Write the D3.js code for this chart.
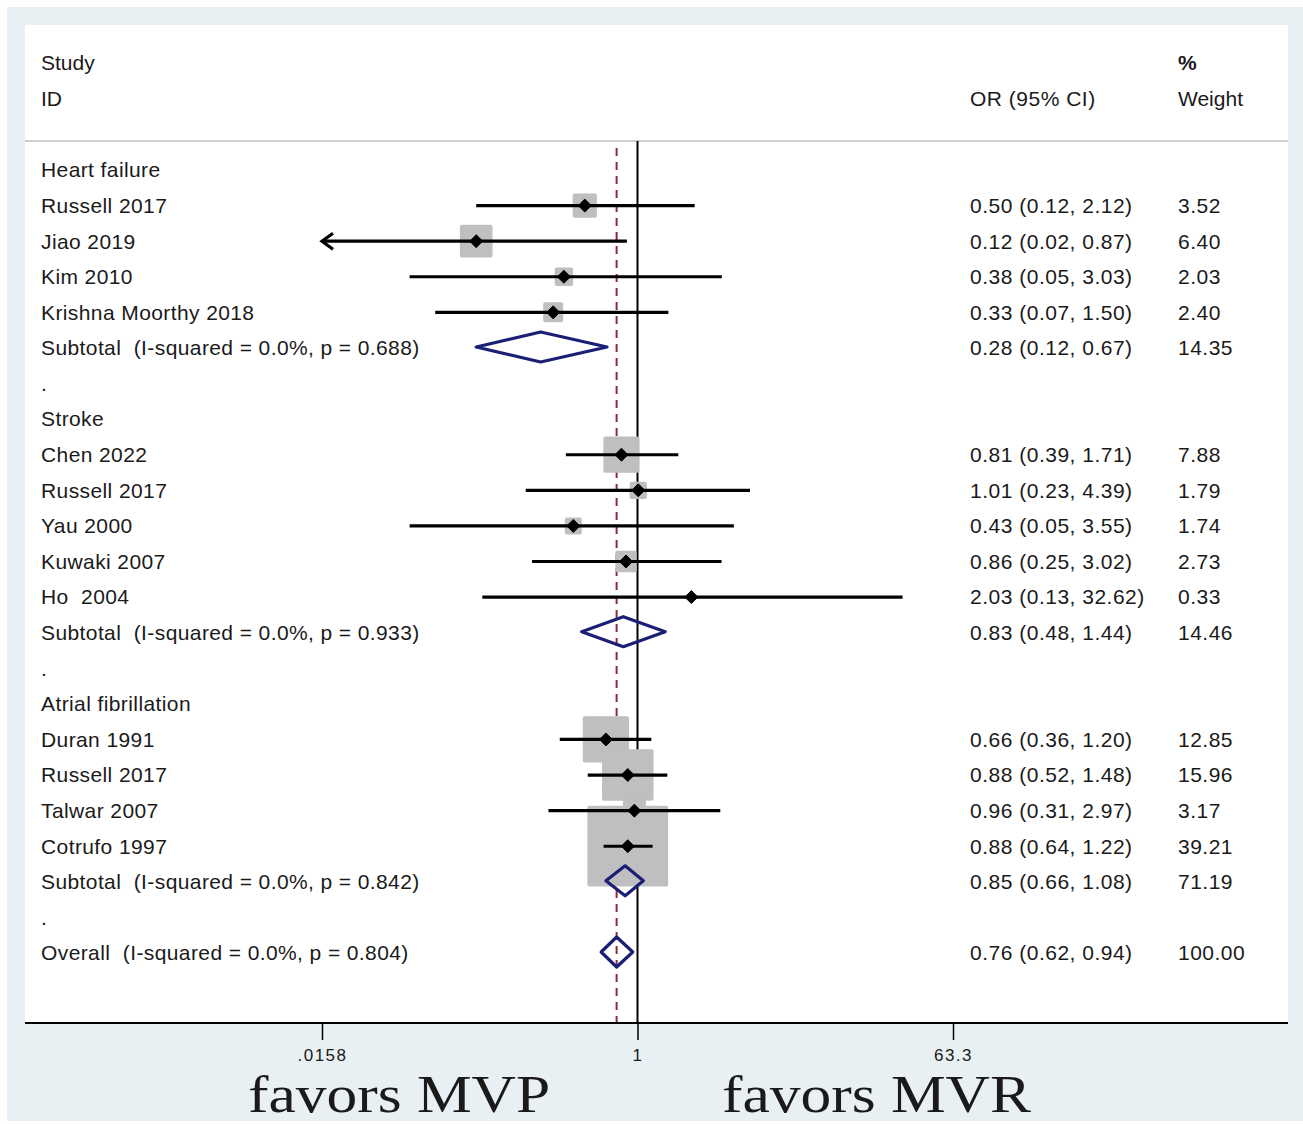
<!DOCTYPE html>
<html>
<head>
<meta charset="utf-8">
<script src="https://cdn.jsdelivr.net/npm/d3@7"></script>
<style>
  html, body { margin: 0; padding: 0; background: #ffffff; }
  svg { display: block; }
  text { font-family: "Liberation Sans", Arial, sans-serif; fill: #1a1a1a; white-space: pre; }
</style>
</head>
<body>
<svg id="chart" width="1303" height="1124"></svg>
<script>
const rowLabels = ["Heart failure","Russell 2017","Jiao 2019","Kim 2010","Krishna Moorthy 2018",
  "Subtotal  (I-squared = 0.0%, p = 0.688)",".","Stroke","Chen 2022","Russell 2017","Yau 2000",
  "Kuwaki 2007","Ho  2004","Subtotal  (I-squared = 0.0%, p = 0.933)",".","Atrial fibrillation",
  "Duran 1991","Russell 2017","Talwar 2007","Cotrufo 1997","Subtotal  (I-squared = 0.0%, p = 0.842)",".",
  "Overall  (I-squared = 0.0%, p = 0.804)"];
const rowTypes = ["group","study","study","study","study","subtotal","blank","group","study","study","study",
  "study","study","subtotal","blank","group","study","study","study","study","subtotal","blank","overall"];
const orValues = [null,0.50,0.12,0.38,0.33,0.28,null,null,0.81,1.01,0.43,0.86,2.03,0.83,null,null,0.66,0.88,0.96,0.88,0.85,null,0.76];
const ciLower  = [null,0.12,0.0156,0.05,0.07,0.12,null,null,0.39,0.23,0.05,0.25,0.13,0.48,null,null,0.36,0.52,0.31,0.64,0.66,null,0.62];
const ciUpper  = [null,2.12,0.87,3.03,1.50,0.67,null,null,1.71,4.39,3.55,3.02,32.62,1.44,null,null,1.20,1.48,2.97,1.22,1.08,null,0.94];
const weights  = [null,3.52,6.40,2.03,2.40,14.35,null,null,7.88,1.79,1.74,2.73,0.33,14.46,null,null,12.85,15.96,3.17,39.21,71.19,null,100.00];
const tickValues = [0.0158, 1, 63.3];
const tickLabels = [".0158", "1", "63.3"];
const favorLabels = ["favors MVP", "favors MVR"];

const svg = d3.select("#chart");
const x = d3.scaleLog().domain([0.0158, 63.3]).range([322, 953]);
const y = d3.scaleLinear().domain([0, rowLabels.length - 1]).range([170, 953]);
const boxScale = d3.scaleSqrt().domain([0, 100]).range([0, 129]);
const f2 = d3.format(".2f");
const overallOR = orValues[rowTypes.indexOf("overall")];
const axisY = 1023;

// backgrounds
svg.append("rect").attr("x", 7).attr("y", 7).attr("width", 1296).attr("height", 1114).attr("fill", "#e9f0f3");
svg.append("rect").attr("x", 25).attr("y", 25).attr("width", 1263).attr("height", axisY - 25).attr("fill", "#ffffff");

// header
const hdr = svg.append("g").style("font-size", "21px");
hdr.append("text").attr("x", 41).attr("y", 63).attr("dy", "0.35em").text("Study");
hdr.append("text").attr("x", 41).attr("y", 99).attr("dy", "0.35em").text("ID");
hdr.append("text").attr("x", 970).attr("y", 99).attr("dy", "0.35em").style("letter-spacing", "0.5px").text("OR (95% CI)");
hdr.append("text").attr("x", 1178).attr("y", 63).attr("dy", "0.35em").style("font-weight", "bold").text("%");
hdr.append("text").attr("x", 1178).attr("y", 99).attr("dy", "0.35em").text("Weight");
svg.append("line").attr("x1", 25).attr("x2", 1288).attr("y1", 141).attr("y2", 141)
  .attr("stroke", "#cfcfcf").attr("stroke-width", 2);

// reference lines
svg.append("line").attr("x1", x(1)).attr("x2", x(1)).attr("y1", 141).attr("y2", axisY)
  .attr("stroke", "#000").attr("stroke-width", 2);
svg.append("line").attr("x1", x(overallOR)).attr("x2", x(overallOR)).attr("y1", 148).attr("y2", axisY)
  .attr("stroke", "#8e2b3b").attr("stroke-width", 2).attr("stroke-dasharray", "8,6");

const rows = rowLabels.map((label, i) => ({label, type: rowTypes[i], or: orValues[i], lo: ciLower[i], hi: ciUpper[i], w: weights[i], i}));
const studies = rows.filter(d => d.type === "study");
const pooled = rows.filter(d => d.type === "subtotal" || d.type === "overall");
const [dmin, dmax] = x.domain();

// boxes
svg.append("g").selectAll("rect").data(studies).join("rect")
  .attr("x", d => x(d.or) - boxScale(d.w) / 2)
  .attr("y", d => y(d.i) - boxScale(d.w) / 2)
  .attr("width", d => boxScale(d.w))
  .attr("height", d => boxScale(d.w))
  .attr("rx", 2)
  .attr("fill", "#bfbfbf");

// CI lines
svg.append("g").selectAll("line").data(studies).join("line")
  .attr("x1", d => x(Math.max(d.lo, dmin)))
  .attr("x2", d => x(Math.min(d.hi, dmax)))
  .attr("y1", d => y(d.i)).attr("y2", d => y(d.i))
  .attr("stroke", "#000").attr("stroke-width", 3.2);

// arrows for truncated CIs
svg.append("g").selectAll("path").data(studies.filter(d => d.lo < dmin)).join("path")
  .attr("d", d => { const x0 = x(dmin), yy = y(d.i); return `M${x0 + 11},${yy - 8}L${x0},${yy}L${x0 + 11},${yy + 8}`; })
  .attr("fill", "none").attr("stroke", "#000").attr("stroke-width", 3.2);

// point estimates
svg.append("g").selectAll("path").data(studies).join("path")
  .attr("d", d => { const cx = x(d.or), cy = y(d.i), r = 6.5; return `M${cx - r},${cy}L${cx},${cy - r}L${cx + r},${cy}L${cx},${cy + r}Z`; })
  .attr("fill", "#000").attr("stroke", "#000").attr("stroke-width", 1).attr("stroke-linejoin", "round");

// diamonds
svg.append("g").selectAll("path").data(pooled).join("path")
  .attr("d", d => { const cy = y(d.i) - 1, h = 15; return `M${x(d.lo)},${cy}L${x(d.or)},${cy - h}L${x(d.hi)},${cy}L${x(d.or)},${cy + h}Z`; })
  .attr("fill", "none").attr("stroke", "#1a1f75").attr("stroke-width", 3.2).attr("stroke-linejoin", "round");

// labels
const lab = svg.append("g").style("font-size", "21px");
lab.selectAll("text.lbl").data(rows).join("text").attr("class", "lbl")
  .attr("x", 41).attr("y", d => y(d.i)).attr("dy", "0.35em").style("letter-spacing", "0.4px")
  .text(d => d.label);
lab.selectAll("text.est").data(rows.filter(d => d.or != null)).join("text").attr("class", "est")
  .attr("x", 970).attr("y", d => y(d.i)).attr("dy", "0.35em").style("letter-spacing", "0.5px")
  .text(d => `${f2(d.or)} (${f2(d.lo)}, ${f2(d.hi)})`);
lab.selectAll("text.wt").data(rows.filter(d => d.w != null)).join("text").attr("class", "wt")
  .attr("x", 1178).attr("y", d => y(d.i)).attr("dy", "0.35em").style("letter-spacing", "0.5px")
  .text(d => f2(d.w));

// axis
svg.append("line").attr("x1", 25).attr("x2", 1288).attr("y1", axisY).attr("y2", axisY)
  .attr("stroke", "#000").attr("stroke-width", 2.2);
const axis = d3.axisBottom(x).tickValues(tickValues).tickFormat((d, i) => tickLabels[i]).tickSize(17).tickPadding(9);
const ag = svg.append("g").attr("transform", `translate(0,${axisY})`).call(axis);
ag.select(".domain").remove();
ag.selectAll(".tick line").attr("stroke", "#000").attr("stroke-width", 1.5);
ag.selectAll(".tick text").style("font-family", "'Liberation Sans', Arial, sans-serif")
  .style("font-size", "17px").style("letter-spacing", "1.5px").attr("fill", "#1a1a1a");

// favors labels
svg.append("g").selectAll("text").data(favorLabels).join("text")
  .attr("transform", (d, i) => `translate(${i === 0 ? 248 : 722},1112) scale(1.16,1)`)
  .style("font-family", "'Liberation Serif', 'Times New Roman', serif").style("font-size", "53px")
  .attr("fill", "#222")
  .text(d => d);
</script>
</body>
</html>
